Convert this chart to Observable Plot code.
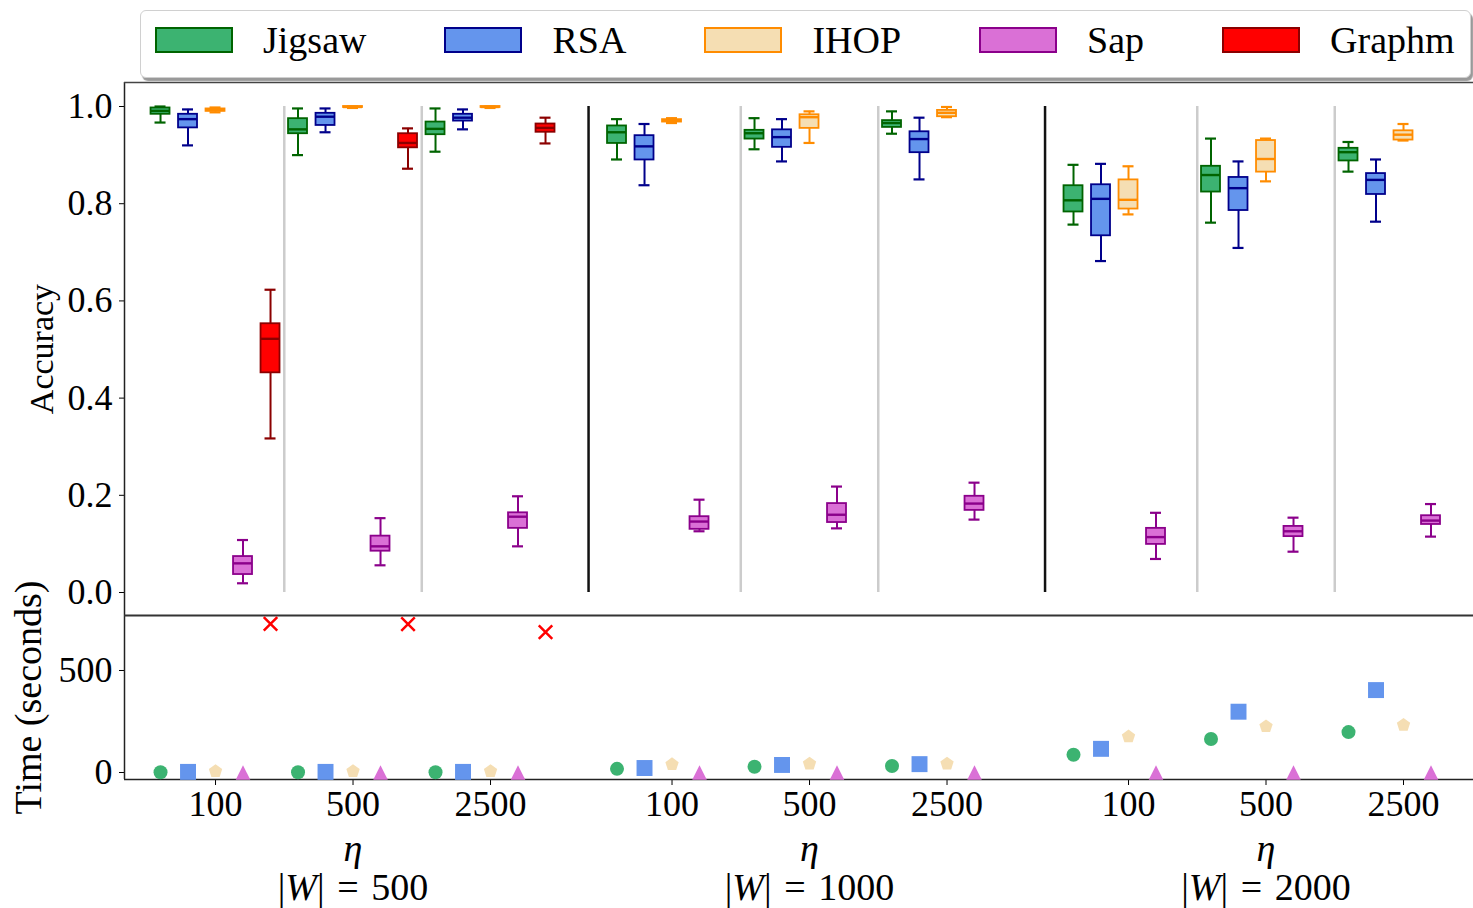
<!DOCTYPE html>
<html><head><meta charset="utf-8">
<script src="https://cdn.jsdelivr.net/npm/d3@7"></script>
<script src="https://cdn.jsdelivr.net/npm/@observablehq/plot@0.6"></script>
<style>
html,body{margin:0;padding:0;background:#fff;}
#wrap{position:relative;width:1473px;height:908px;overflow:hidden;font-family:'Liberation Serif','Times New Roman',serif;}
#legend{position:absolute;left:140px;top:10px;width:1331px;height:68px;border:1.5px solid #d0d0d0;border-radius:6px;background:#fff;box-shadow:2px 3px 1px rgba(0,0,0,0.4);display:flex;align-items:center;padding:0 0 8px 14px;box-sizing:border-box;z-index:2;}
.item{display:flex;align-items:center;margin-right:78px;}
.sw{width:78px;height:26px;box-sizing:border-box;border:2px solid;margin-right:30px;}
.lab{font-size:38px;line-height:1;color:#000;}
svg.plotpart{position:absolute;left:0;}
svg.plotpart text{font-family:'Liberation Serif','Times New Roman',serif;}
</style></head><body><div id="wrap"><div id="legend"></div></div>
<script>
// ---------- data ----------
const wLabels = ["|W| = 500", "|W| = 1000", "|W| = 2000"];
const etaLabels = ["100", "500", "2500"];
const methods = ["Jigsaw", "RSA", "IHOP", "Sap", "Graphm"];
const fillColors = ["mediumseagreen", "cornflowerblue", "wheat", "orchid", "red"];
const edgeColors = ["darkgreen", "darkblue", "darkorange", "darkmagenta", "darkred"];
const accTicks = [0, 0.2, 0.4, 0.6, 0.8, 1.0];
const timeTicks = [0, 500];

// accuracy box stats per group [whiskerLow, q1, median, q3, whiskerHigh]
// group order: (|W|=500: eta 100, 500, 2500), (|W|=1000: ...), (|W|=2000: ...)
const jigsawAcc = [
  [0.967, 0.984, 0.991, 0.997, 1.000],
  [0.900, 0.944, 0.953, 0.975, 0.996],
  [0.907, 0.942, 0.954, 0.968, 0.996],
  [0.891, 0.924, 0.947, 0.960, 0.974],
  [0.912, 0.933, 0.945, 0.951, 0.976],
  [0.944, 0.957, 0.966, 0.971, 0.990],
  [0.757, 0.783, 0.807, 0.837, 0.880],
  [0.761, 0.824, 0.859, 0.877, 0.934],
  [0.866, 0.888, 0.906, 0.914, 0.927]
];
const rsaAcc = [
  [0.920, 0.956, 0.974, 0.984, 0.994],
  [0.947, 0.961, 0.979, 0.986, 0.996],
  [0.953, 0.970, 0.977, 0.984, 0.994],
  [0.838, 0.890, 0.918, 0.940, 0.964],
  [0.887, 0.916, 0.937, 0.952, 0.974],
  [0.850, 0.905, 0.933, 0.948, 0.977],
  [0.682, 0.734, 0.810, 0.839, 0.882],
  [0.709, 0.786, 0.832, 0.854, 0.887],
  [0.763, 0.819, 0.849, 0.862, 0.891]
];
const ihopAcc = [
  [0.988, 0.990, 0.993, 0.995, 0.998],
  [0.997, 0.998, 0.999, 1.000, 1.000],
  [0.997, 0.998, 0.999, 1.000, 1.000],
  [0.966, 0.968, 0.971, 0.973, 0.976],
  [0.925, 0.955, 0.978, 0.983, 0.990],
  [0.978, 0.979, 0.987, 0.992, 0.999],
  [0.778, 0.789, 0.808, 0.849, 0.877],
  [0.846, 0.865, 0.892, 0.930, 0.934],
  [0.930, 0.931, 0.942, 0.950, 0.964]
];
const sapAcc = [
  [0.019, 0.037, 0.060, 0.074, 0.108],
  [0.056, 0.085, 0.095, 0.116, 0.153],
  [0.095, 0.132, 0.156, 0.164, 0.198],
  [0.126, 0.130, 0.146, 0.156, 0.191],
  [0.132, 0.144, 0.160, 0.183, 0.218],
  [0.150, 0.169, 0.183, 0.198, 0.226],
  [0.069, 0.099, 0.114, 0.132, 0.164],
  [0.084, 0.115, 0.126, 0.136, 0.154],
  [0.115, 0.140, 0.148, 0.158, 0.182]
];
const graphmAcc = [
  [0.317, 0.452, 0.522, 0.553, 0.623],
  [0.872, 0.915, 0.925, 0.944, 0.955],
  [0.924, 0.947, 0.956, 0.964, 0.977],
  null, null, null, null, null, null
];

// time in seconds per group
const jigsawTime = [1, 1, 1, 18, 28, 32, 87, 164, 198];
const rsaTime    = [3, 3, 3, 22, 37, 41, 116, 298, 404];
const ihopTime   = [6, 6, 6, 40, 43, 43, 176, 226, 233];
const sapTime    = [0, 0, 0, 0, 0, 0, 0, 0, 0];
const graphmTime = [729, 727, 688, null, null, null, null, null, null];

// ---------- layout helpers ----------
const FONT = "'Liberation Serif','Times New Roman',serif";
const blockStep = 3.32, methodStep = 0.2, boxW = 0.138, capW = 0.08;
const xDomain = [-0.662, 9.149];
const accDomain = [-0.0473, 1.0494];
const timeDomain = [-34.3, 769.6];
const accAll = [jigsawAcc, rsaAcc, ihopAcc, sapAcc, graphmAcc];
const timeAll = [jigsawTime, rsaTime, ihopTime, sapTime, graphmTime];
const pos = (g, mi) => Math.floor(g / 3) * blockStep + (g % 3) + (mi - 2) * methodStep;

const accRows = [];
accAll.forEach((arr, mi) => arr.forEach((s, g) => {
  if (!s) return;
  accRows.push({method: methods[mi], x: pos(g, mi), lo: s[0], q1: s[1], med: s[2], q3: s[3], hi: s[4],
    fill: fillColors[mi], edge: edgeColors[mi]});
}));
const timeRows = methods.map((m, mi) => timeAll[mi].map((t, g) => t == null ? null : {method: m, x: pos(g, mi), t}).filter(Boolean));

const etaTickPos = [], etaTickText = [];
wLabels.forEach((w, b) => etaLabels.forEach((e, i) => { etaTickPos.push(b * blockStep + i); etaTickText.push(e); }));
const grayX = [], blackX = [];
wLabels.forEach((w, b) => {
  grayX.push(b * blockStep + 0.5, b * blockStep + 1.5);
  if (b < wLabels.length - 1) blackX.push(b * blockStep + 2.713);
});
const blockRows = wLabels.map((w, b) => ({x: b * blockStep + 1, label: w}));

// custom symbols (matplotlib-like centering)
const pentagon = {draw(ctx, size) {
  const R = Math.sqrt(size / (2.5 * Math.sin(2 * Math.PI / 5)));
  for (let k = 0; k < 5; k++) {
    const a = -Math.PI / 2 + k * 2 * Math.PI / 5;
    const px = R * Math.cos(a), py = R * Math.sin(a);
    if (k === 0) ctx.moveTo(px, py); else ctx.lineTo(px, py);
  }
  ctx.closePath();
}};
const triUp = {draw(ctx, size) {
  const s = Math.sqrt(2 * size) / 2;
  ctx.moveTo(0, -s); ctx.lineTo(s, s); ctx.lineTo(-s, s); ctx.closePath();
}};
const symbolSpecs = [
  {symbol: "circle", r: 7},
  {symbol: "square", r: 9},
  {symbol: pentagon, r: 6.1},
  {symbol: triUp, r: 5.8},
  {symbol: "times", r: 6.2}
];

// ---------- legend ----------
const legend = d3.select("#legend");
methods.forEach((m, mi) => {
  const it = legend.append("div").attr("class", "item");
  it.append("div").attr("class", "sw").style("background", fillColors[mi]).style("border-color", edgeColors[mi]);
  it.append("span").attr("class", "lab").text(m);
});

const baseStyle = {fontFamily: FONT, fontSize: "36px", background: "transparent", color: "#000", overflow: "visible"};

// ---------- top: accuracy ----------
const topPlot = Plot.plot({
  width: 1473, height: 555, marginLeft: 124, marginRight: 0, marginTop: 20, marginBottom: 2,
  style: baseStyle,
  x: {domain: xDomain, axis: null},
  y: {domain: accDomain, ticks: accTicks, tickFormat: d3.format(".1f"), tickSize: 5, tickPadding: 7, label: null},
  color: {type: "identity"},
  marks: [
    Plot.ruleX(grayX, {y1: 0, y2: 1, stroke: "#cccccc", strokeWidth: 2.5}),
    Plot.ruleX(blackX, {y1: 0, y2: 1, stroke: "#111", strokeWidth: 2.5}),
    Plot.ruleX(accRows, {x: "x", y1: "lo", y2: "hi", stroke: "edge", strokeWidth: 2}),
    Plot.rect(accRows, {x1: d => d.x - boxW / 2, x2: d => d.x + boxW / 2, y1: "q1", y2: "q3", fill: "fill", stroke: "edge", strokeWidth: 1.8}),
    Plot.ruleY(accRows, {y: "med", x1: d => d.x - boxW / 2, x2: d => d.x + boxW / 2, stroke: "edge", strokeWidth: 2.4}),
    Plot.ruleY(accRows, {y: "lo", x1: d => d.x - capW / 2, x2: d => d.x + capW / 2, stroke: "edge", strokeWidth: 2.2}),
    Plot.ruleY(accRows, {y: "hi", x1: d => d.x - capW / 2, x2: d => d.x + capW / 2, stroke: "edge", strokeWidth: 2.2}),
    Plot.ruleX([xDomain[0]], {stroke: "#222", strokeWidth: 1.5}),
    Plot.ruleY([accDomain[1]], {stroke: "#444", strokeWidth: 1.5}),
    Plot.text(["Accuracy"], {frameAnchor: "left", dx: -82, rotate: -90, text: d => d, fontSize: 34, textAnchor: "middle", lineAnchor: "middle", fill: "#000"})
  ]
});
topPlot.setAttribute("class", (topPlot.getAttribute("class") || "") + " plotpart");
topPlot.style.top = "62px";
document.getElementById("wrap").appendChild(topPlot);

// ---------- bottom: time ----------
const dotMarks = timeRows.map((rows, mi) => {
  const spec = symbolSpecs[mi];
  return mi === 4
    ? Plot.dot(rows, {x: "x", y: "t", symbol: spec.symbol, r: spec.r, stroke: fillColors[mi], fill: "none", strokeWidth: 2.5})
    : Plot.dot(rows, {x: "x", y: "t", symbol: spec.symbol, r: spec.r, fill: fillColors[mi], stroke: "none"});
});
const bottomPlot = Plot.plot({
  width: 1473, height: 313, marginLeft: 124, marginRight: 0, marginTop: 20, marginBottom: 129,
  style: baseStyle,
  x: {domain: xDomain, ticks: etaTickPos, tickFormat: d => etaTickText[etaTickPos.indexOf(d)], tickSize: 6, tickPadding: 5, label: null},
  y: {domain: timeDomain, ticks: timeTicks, tickFormat: d => String(d), tickSize: 5, tickPadding: 7, label: null},
  marks: [
    Plot.ruleX([xDomain[0]], {stroke: "#222", strokeWidth: 1.5}),
    Plot.ruleY([timeDomain[0]], {stroke: "#222", strokeWidth: 1.5}),
    Plot.ruleY([timeDomain[1]], {stroke: "#333", strokeWidth: 1.8}),
    ...dotMarks,
    Plot.text(blockRows, {x: "x", frameAnchor: "bottom", dy: 69, text: () => "η", fontStyle: "italic", fontSize: 38, lineAnchor: "middle", fill: "#000"}),
    Plot.text(blockRows, {x: "x", frameAnchor: "bottom", dy: 108, text: "label", fontSize: 38, lineAnchor: "middle", fill: "#000"}),
    Plot.text(["Time (seconds)"], {frameAnchor: "left", dx: -96, rotate: -90, text: d => d, fontSize: 38, textAnchor: "middle", lineAnchor: "middle", fill: "#000"})
  ]
});
bottomPlot.setAttribute("class", (bottomPlot.getAttribute("class") || "") + " plotpart");
bottomPlot.style.top = "595px";
document.getElementById("wrap").appendChild(bottomPlot);

// italic W in |W| labels, with math-like spacing around "="
d3.select(bottomPlot).selectAll("text").filter(function() { return /^\|W\|/.test(this.textContent); }).each(function() {
  const rest = this.textContent.replace(/^\|W\|\s*=\s*/, "");
  const t = d3.select(this);
  t.text("");
  t.append("tspan").text("|");
  t.append("tspan").attr("font-style", "italic").text("W");
  t.append("tspan").text("|\u2004=\u2004" + rest);
});
</script></body></html>
